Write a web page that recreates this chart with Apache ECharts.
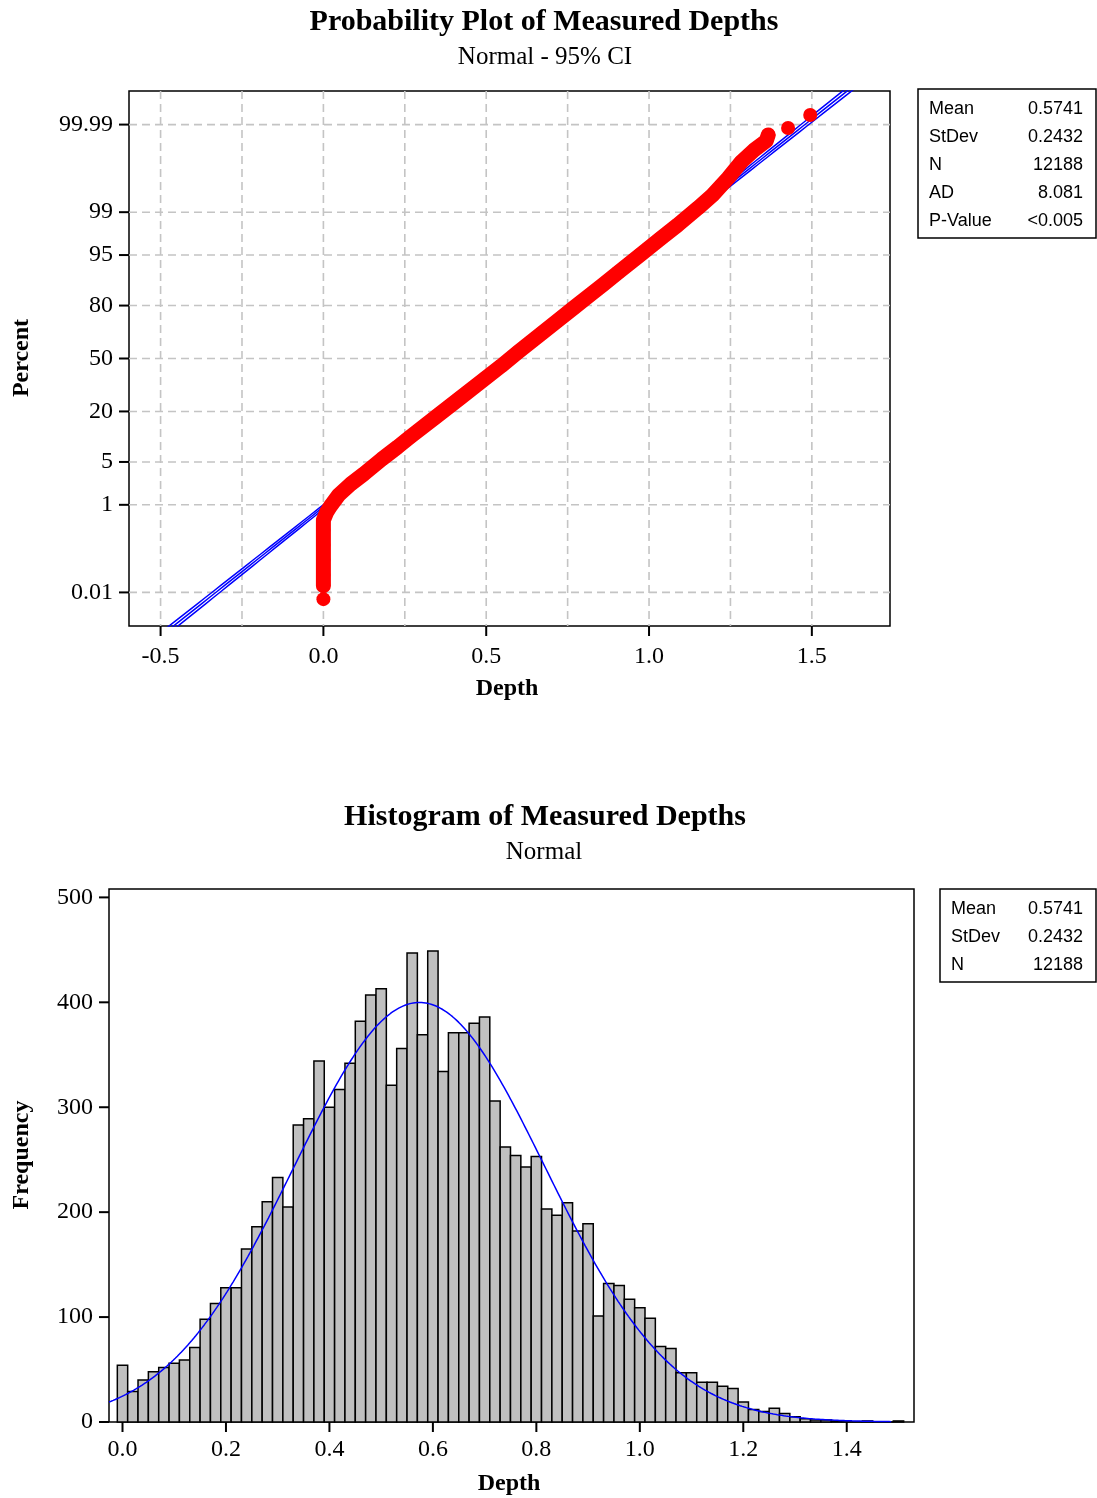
<!DOCTYPE html>
<html>
<head>
<meta charset="utf-8">
<script src="https://cdn.jsdelivr.net/npm/echarts@6/dist/echarts.min.js"></script>
<style>
  html, body { margin: 0; padding: 0; background: #fff; }
  #chart { width: 1097px; height: 1498px; }
</style>
</head>
<body>
<div id="chart"></div>
<script>
// ---------------- data ----------------
// Probability plot: points (depth, cumulative percent)
var probDepth = [0.00, 0.00, 0.00, 0.00, 0.00, 0.00, 0.00, 0.010, 0.022, 0.047, 0.084, 0.124, 0.180, 0.228, 0.266, 0.345, 0.420, 0.498, 0.546, 0.598, 0.672, 0.729, 0.768, 0.819, 0.858, 0.906, 0.972, 1.036, 1.088, 1.150, 1.195, 1.243, 1.283, 1.323, 1.360, 1.366, 1.427, 1.495];
var probPct = [0.0065, 0.0152, 0.0289, 0.0678, 0.151, 0.32, 0.51, 0.73, 0.95, 1.50, 2.30, 3.32, 5.50, 7.97, 10.6, 17.6, 26.5, 37.8, 45.3, 54.1, 65.8, 74.0, 78.9, 84.4, 87.9, 91.5, 95.0, 97.2, 98.31, 99.16, 99.53, 99.795, 99.911, 99.954, 99.973, 99.981, 99.9876, 99.9946];
// percent tick labels of the probability axis
var pctTicks = [0.01, 1, 5, 20, 50, 80, 95, 99, 99.99];
var pctTickLabels = ['0.01', '1', '5', '20', '50', '80', '95', '99', '99.99'];
var probXLabels = [-0.5, 0.0, 0.5, 1.0, 1.5];
var probXGrid = [-0.5, -0.25, 0, 0.25, 0.5, 0.75, 1.0, 1.25, 1.5];

// Summary statistics
var statMean = 0.5741, statSd = 0.2432, statN = 12188;
var statsTop = [['Mean', '0.5741'], ['StDev', '0.2432'], ['N', '12188'], ['AD', '8.081'], ['P-Value', '<0.005']];
var statsBottom = [['Mean', '0.5741'], ['StDev', '0.2432'], ['N', '12188']];

// Histogram: bin width 0.02, first bin centred on 0.00
var binWidth = 0.02;
var histCounts = [54, 29, 40, 48, 52, 56, 59, 71, 98, 113, 128, 128, 165, 186, 210, 233, 205, 283, 289, 344, 300, 317, 342, 382, 407, 413,
  321, 356, 447, 369, 449, 334, 371, 371, 380, 386,
  306, 262, 254, 243, 253, 203, 197, 209, 182, 189,
  101, 132, 130, 117, 109, 99, 72, 70, 47, 47,
  38, 38, 34, 32, 19, 12, 10, 13, 8, 5,
  3, 2, 2, 1, 0, 0, 1, 0, 0, 1];
var histXLabels = [0.0, 0.2, 0.4, 0.6, 0.8, 1.0, 1.2, 1.4];
var histYTicks = [0, 100, 200, 300, 400, 500];

// ---------------- helpers ----------------
function normInv(p) {
  var a = [-3.969683028665376e+01, 2.209460984245205e+02, -2.759285104469687e+02, 1.383577518672690e+02, -3.066479806614716e+01, 2.506628277459239e+00];
  var b = [-5.447609879822406e+01, 1.615858368580409e+02, -1.556989798598866e+02, 6.680131188771972e+01, -1.328068155288572e+01];
  var c = [-7.784894002430293e-03, -3.223964580411365e-01, -2.400758277161838e+00, -2.549732539343734e+00, 4.374664141464968e+00, 2.938163982698783e+00];
  var d = [7.784695709041462e-03, 3.224671290700398e-01, 2.445134137142996e+00, 3.754408661907416e+00];
  var pl = 0.02425, ph = 1 - pl, q, r;
  if (p < pl) {
    q = Math.sqrt(-2 * Math.log(p));
    return (((((c[0] * q + c[1]) * q + c[2]) * q + c[3]) * q + c[4]) * q + c[5]) / ((((d[0] * q + d[1]) * q + d[2]) * q + d[3]) * q + 1);
  }
  if (p > ph) {
    q = Math.sqrt(-2 * Math.log(1 - p));
    return -(((((c[0] * q + c[1]) * q + c[2]) * q + c[3]) * q + c[4]) * q + c[5]) / ((((d[0] * q + d[1]) * q + d[2]) * q + d[3]) * q + 1);
  }
  q = p - 0.5; r = q * q;
  return (((((a[0] * r + a[1]) * r + a[2]) * r + a[3]) * r + a[4]) * r + a[5]) * q / (((((b[0] * r + b[1]) * r + b[2]) * r + b[3]) * r + b[4]) * r + 1);
}
var zTicks = pctTicks.map(function (p) { return normInv(p / 100); });
var probPts = probDepth.map(function (d, i) { return [d, normInv(probPct[i] / 100)]; });
var bandPts = probPts.slice(1, 36);

// fitted line and 95% CI (from mean, stdev, N)
var fitLine = [], ciLow = [], ciHigh = [];
for (var zz = -4.6; zz <= 4.61; zz += 0.1) {
  var xm = statMean + zz * statSd;
  var half = 1.96 * statSd * Math.sqrt((1 + zz * zz / 2) / statN);
  fitLine.push([xm, zz]); ciLow.push([xm - half, zz]); ciHigh.push([xm + half, zz]);
}
// fitted normal curve for histogram
var normCurve = [];
for (var xx = -0.026; xx <= 1.49; xx += 0.004) {
  var zc = (xx - statMean) / statSd;
  normCurve.push([xx, statN * binWidth * Math.exp(-zc * zc / 2) / (statSd * Math.sqrt(2 * Math.PI))]);
}
var histData = histCounts.map(function (h, i) { return [i * binWidth, h]; });

// ---------------- chart ----------------
var serif = '"Liberation Serif", "Times New Roman", serif';
var sans = '"Liberation Sans", Arial, sans-serif';
var chart = echarts.init(document.getElementById('chart'), null, { renderer: 'canvas' });

var TOP = { left: 129, top: 91, width: 761, height: 535 };
var BOT = { left: 109, top: 889, width: 805, height: 533 };
var TICK_LEN = 10;

function statBox(x, y, w, rows, labelX, valueX) {
  var els = [{
    type: 'rect', shape: { x: x, y: y, width: w, height: rows.length * 28 + 9 },
    style: { fill: '#fff', stroke: '#000', lineWidth: 1.5 }, z: 10
  }];
  rows.forEach(function (r, i) {
    var cy = y + 20 + i * 28;
    els.push({ type: 'text', x: labelX, y: cy, z: 11, style: { text: r[0], font: '18px ' + sans, fill: '#000', align: 'left', verticalAlign: 'middle' } });
    els.push({ type: 'text', x: valueX, y: cy, z: 11, style: { text: r[1], font: '18px ' + sans, fill: '#000', align: 'right', verticalAlign: 'middle' } });
  });
  return els;
}
function txt(text, x, y, font, rot) {
  return { type: 'text', x: x, y: y, rotation: rot || 0, z: 11,
    style: { text: text, font: font, fill: '#000', align: 'center', verticalAlign: 'middle' } };
}
// outward tick marks drawn through the axes' own scales
function xTickSeries(axisIdx, values) {
  return { type: 'custom', xAxisIndex: axisIdx, yAxisIndex: axisIdx, z: 20, zlevel: 0, silent: true, clip: false,
    data: values.map(function (v) { return [v, 0]; }),
    renderItem: function (params, api) {
      var cs = params.coordSys; var p = api.coord([api.value(0), 0]); var yb = cs.y + cs.height;
      return { type: 'line', z2: 100, shape: { x1: p[0], y1: yb, x2: p[0], y2: yb + TICK_LEN }, style: { stroke: '#000', lineWidth: 2 } };
    } };
}
function yTickSeries(axisIdx, values) {
  return { type: 'custom', xAxisIndex: axisIdx, yAxisIndex: axisIdx, z: 20, zlevel: 0, silent: true, clip: false,
    data: values.map(function (v) { return [0, v]; }),
    renderItem: function (params, api) {
      var cs = params.coordSys; var p = api.coord([0, api.value(1)]);
      return { type: 'line', z2: 100, shape: { x1: cs.x - TICK_LEN, y1: p[1], x2: cs.x, y2: p[1] }, style: { stroke: '#000', lineWidth: 2 } };
    } };
}

var gridStyle = { stroke: '#c4c4c4', lineWidth: 1.6, lineDash: [8, 5] };
var axisLineOff = { show: false, onZero: false };

var option = {
  animation: false,
  backgroundColor: '#fff',
  graphic: [].concat(
    [txt('Probability Plot of Measured Depths', 544, 22, 'bold 30px ' + serif),
     txt('Normal - 95% CI', 545, 57, '25px ' + serif),
     txt('Depth', 507, 689, 'bold 24px ' + serif),
     txt('Percent', 22, 358, 'bold 24px ' + serif, Math.PI / 2),
     txt('Histogram of Measured Depths', 545, 817, 'bold 30px ' + serif),
     txt('Normal', 544, 852, '25px ' + serif),
     txt('Depth', 509, 1484, 'bold 24px ' + serif),
     txt('Frequency', 22, 1155, 'bold 24px ' + serif, Math.PI / 2)],
    statBox(918, 89, 178, statsTop, 929, 1083),
    statBox(940, 889, 156, statsBottom, 951, 1083)
  ),
  grid: [
    { left: TOP.left, top: TOP.top, width: TOP.width, height: TOP.height, show: true, borderColor: '#000', borderWidth: 1.5, backgroundColor: 'transparent' },
    { left: BOT.left, top: BOT.top, width: BOT.width, height: BOT.height, show: true, borderColor: '#000', borderWidth: 1.5, backgroundColor: 'transparent' }
  ],
  xAxis: [
    { type: 'value', gridIndex: 0, min: -0.597, max: 1.740, position: 'bottom',
      axisLine: axisLineOff, splitLine: { show: false }, axisTick: { show: false },
      axisLabel: { customValues: probXLabels, margin: 19, color: '#000', fontFamily: serif, fontSize: 24,
        formatter: function (v) { return v.toFixed(1); } } },
    { type: 'value', gridIndex: 1, min: -0.0261, max: 1.530, position: 'bottom',
      axisLine: axisLineOff, splitLine: { show: false }, axisTick: { show: false },
      axisLabel: { customValues: histXLabels, margin: 16, color: '#000', fontFamily: serif, fontSize: 24,
        formatter: function (v) { return v.toFixed(1); } } }
  ],
  yAxis: [
    { type: 'value', gridIndex: 0, min: -4.253, max: 4.253, position: 'left',
      axisLine: axisLineOff, splitLine: { show: false }, axisTick: { show: false },
      axisLabel: { customValues: zTicks, margin: 16, color: '#000', fontFamily: serif, fontSize: 24,
        formatter: function (v) {
          for (var i = 0; i < zTicks.length; i++) { if (Math.abs(zTicks[i] - v) < 1e-6) return pctTickLabels[i]; }
          return '';
        } } },
    { type: 'value', gridIndex: 1, min: 0, max: 508, interval: 100, position: 'left',
      axisLine: axisLineOff, splitLine: { show: false }, axisTick: { show: false },
      axisLabel: { customValues: histYTicks, margin: 16, color: '#000', fontFamily: serif, fontSize: 24 } }
  ],
  series: [
    // vertical dashed grid lines
    { type: 'custom', xAxisIndex: 0, yAxisIndex: 0, z: 1, silent: true,
      data: probXGrid.map(function (v) { return [v, 0]; }),
      renderItem: function (params, api) {
        var cs = params.coordSys; var p = api.coord([api.value(0), 0]);
        return { type: 'line', shape: { x1: p[0], y1: cs.y, x2: p[0], y2: cs.y + cs.height }, style: gridStyle };
      } },
    // horizontal dashed grid lines
    { type: 'custom', xAxisIndex: 0, yAxisIndex: 0, z: 1, silent: true,
      data: zTicks.map(function (v) { return [0, v]; }),
      renderItem: function (params, api) {
        var cs = params.coordSys; var p = api.coord([0, api.value(1)]);
        return { type: 'line', shape: { x1: cs.x, y1: p[1], x2: cs.x + cs.width, y2: p[1] }, style: gridStyle };
      } },
    // tick marks
    xTickSeries(0, probXLabels), yTickSeries(0, zTicks),
    xTickSeries(1, histXLabels), yTickSeries(1, histYTicks),
    // fitted line and CI
    { type: 'line', xAxisIndex: 0, yAxisIndex: 0, z: 2, data: ciLow, showSymbol: false, clip: true, lineStyle: { color: '#0000ff', width: 1.5 } },
    { type: 'line', xAxisIndex: 0, yAxisIndex: 0, z: 2, data: fitLine, showSymbol: false, clip: true, lineStyle: { color: '#0000ff', width: 1.5 } },
    { type: 'line', xAxisIndex: 0, yAxisIndex: 0, z: 2, data: ciHigh, showSymbol: false, clip: true, lineStyle: { color: '#0000ff', width: 1.5 } },
    // dense band of observations
    { type: 'line', xAxisIndex: 0, yAxisIndex: 0, z: 3, data: bandPts, showSymbol: false,
      lineStyle: { color: '#ff0000', width: 15, cap: 'round', join: 'round' } },
    { type: 'scatter', xAxisIndex: 0, yAxisIndex: 0, z: 4, data: probPts, symbol: 'circle', symbolSize: 14,
      itemStyle: { color: '#ff0000', opacity: 1 } },
    // histogram bars
    { type: 'custom', xAxisIndex: 1, yAxisIndex: 1, z: 2, data: histData,
      renderItem: function (params, api) {
        var c = api.value(0), h = api.value(1);
        var p0 = api.coord([c - binWidth / 2, h]);
        var p1 = api.coord([c + binWidth / 2, 0]);
        return { type: 'rect', shape: { x: p0[0], y: p0[1], width: p1[0] - p0[0], height: p1[1] - p0[1] },
          style: { fill: '#c0c0c0', stroke: '#000', lineWidth: 1.5 } };
      } },
    // fitted normal curve
    { type: 'line', xAxisIndex: 1, yAxisIndex: 1, z: 3, data: normCurve, showSymbol: false, clip: true,
      lineStyle: { color: '#0000ff', width: 1.5 } }
  ]
};
chart.setOption(option);
</script>
</body>
</html>
